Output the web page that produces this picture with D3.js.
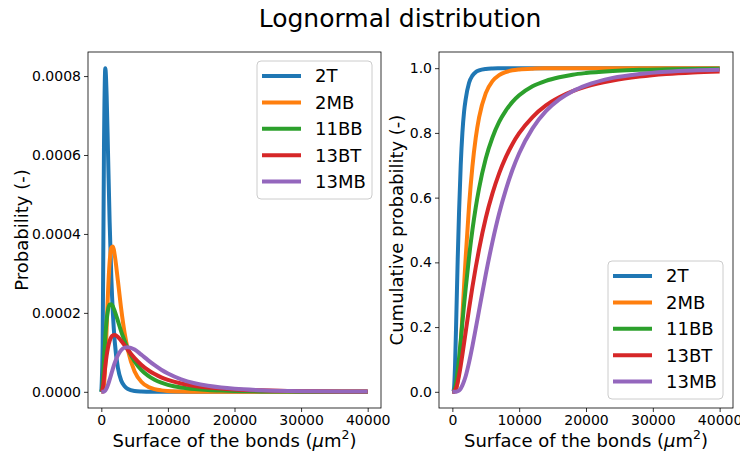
<!DOCTYPE html>
<html>
<head>
<meta charset="utf-8">
<script src="https://cdn.jsdelivr.net/npm/d3@7"></script>
<style>
  body { margin: 0; background: #fff; }
  svg { font-family: "DejaVu Sans", sans-serif; }
</style>
</head>
<body>
<svg width="740" height="457"></svg>
<script>
// values
var names  = ["2T", "2MB", "11BB", "13BT", "13MB"];
var colors = ["#1f77b4", "#ff7f0e", "#2ca02c", "#d62728", "#9467bd"];

var surface = [0, 200, 400, 600, 800, 1000, 1250, 1500, 1750, 2000, 2500, 3000, 3500, 4000, 5000,
               6000, 7000, 8000, 9000, 10000, 12000, 14000, 16000, 18000, 20000, 24000, 28000, 32000, 36000, 40000];

var pdf2T   = [0, 0.00012, 0.00062, 0.00082, 0.00075, 0.00061, 0.00043, 0.00029, 0.000195, 0.00013, 0.00006, 0.000028, 0.000014, 0.000007, 0.000002,
               0.0000007, 0.0000003, 0.0000001, 0, 0, 0, 0, 0, 0, 0, 0, 0, 0, 0, 0];
var pdf2MB  = [0, 0.0000003, 0.000015, 0.000073, 0.000162, 0.00025, 0.000329, 0.000365, 0.000368, 0.000348, 0.00028, 0.000208, 0.000149, 0.000105, 0.0000515,
               0.0000256, 0.000013, 0.0000068, 0.0000037, 0.0000021, 0.0000007, 0.0000003, 0.0000001, 0, 0, 0, 0, 0, 0, 0];
var pdf11BB = [0, 0.0000186, 0.00008, 0.000139, 0.000182, 0.000207, 0.000221, 0.000222, 0.000216, 0.000205, 0.000179, 0.000152, 0.000129, 0.000108, 0.000077,
               0.0000556, 0.0000408, 0.0000304, 0.000023, 0.0000177, 0.0000108, 0.0000069, 0.0000045, 0.0000031, 0.0000022, 0.0000011, 0.0000006, 0.0000004, 0.0000002, 0.0000001];
var pdf13BT = [0, 0.0000074, 0.0000343, 0.0000653, 0.0000918, 0.000112, 0.000129, 0.000139, 0.000143, 0.000144, 0.000139, 0.000129, 0.000118, 0.000106, 0.0000854,
               0.0000686, 0.0000553, 0.0000449, 0.0000367, 0.0000302, 0.000021, 0.0000149, 0.0000109, 0.0000081, 0.0000061, 0.0000037, 0.0000023, 0.0000015, 0.000001, 0.0000007];
var pdf13MB = [0, 0, 0.0000006, 0.0000033, 0.000009, 0.0000175, 0.0000308, 0.0000452, 0.0000594, 0.0000724, 0.0000929, 0.000106, 0.000112, 0.000113, 0.000107,
               0.0000941, 0.0000803, 0.0000674, 0.000056, 0.0000464, 0.0000317, 0.0000218, 0.0000152, 0.0000107, 0.0000076, 0.0000041, 0.0000022, 0.0000013, 0.0000008, 0.0000005];

var cdf2T   = [0, 0.005, 0.08, 0.24, 0.41, 0.555, 0.70, 0.80, 0.865, 0.905, 0.955, 0.977, 0.988, 0.993, 0.9976,
               0.9991, 0.9996, 0.9998, 0.9999, 1, 1, 1, 1, 1, 1, 1, 1, 1, 1, 1];
var cdf2MB  = [0, 0, 0.001, 0.009, 0.0325, 0.074, 0.147, 0.2345, 0.327, 0.417, 0.575, 0.696, 0.785, 0.848, 0.923,
               0.960, 0.9787, 0.9882, 0.9934, 0.9961, 0.9986, 0.9995, 0.9998, 1, 1, 1, 1, 1, 1, 1];
var cdf11BB = [0, 0.001, 0.0105, 0.0326, 0.065, 0.104, 0.158, 0.214, 0.2685, 0.321, 0.417, 0.5, 0.570, 0.629, 0.721,
               0.786, 0.834, 0.869, 0.896, 0.916, 0.944, 0.961, 0.972, 0.980, 0.985, 0.991, 0.995, 0.9966, 0.9978, 0.9985];
var cdf13BT = [0, 0.0004, 0.0043, 0.0143, 0.030, 0.0506, 0.081, 0.115, 0.150, 0.186, 0.257, 0.324, 0.385, 0.441, 0.537,
               0.613, 0.675, 0.725, 0.766, 0.799, 0.849, 0.885, 0.910, 0.929, 0.943, 0.962, 0.974, 0.982, 0.987, 0.990];
var cdf13MB = [0, 0, 0, 0.0004, 0.0016, 0.0042, 0.0102, 0.0197, 0.0328, 0.049, 0.091, 0.141, 0.196, 0.252, 0.363,
               0.4635, 0.551, 0.624, 0.686, 0.737, 0.814, 0.867, 0.9035, 0.929, 0.947, 0.970, 0.982, 0.989, 0.993, 0.995];

var xTicks    = [0, 10000, 20000, 30000, 40000];
var pdfTicks  = [0, 0.0002, 0.0004, 0.0006, 0.0008];
var cdfTicks  = [0, 0.2, 0.4, 0.6, 0.8, 1.0];

var pdfSeries = [pdf2T, pdf2MB, pdf11BB, pdf13BT, pdf13MB];
var cdfSeries = [cdf2T, cdf2MB, cdf11BB, cdf13BT, cdf13MB];

var svg = d3.select("svg");

svg.append("text")
   .attr("x", 400)
   .attr("y", 27)
   .attr("text-anchor", "middle")
   .attr("font-size", 25)
   .text("Lognormal distribution");

function withMargin(lo, hi) {
  var pad = (hi - lo) * 0.05;
  return [lo - pad, hi + pad];
}

function panel(opts) {
  var left = opts.left, top = 52, width = opts.width, height = 356;
  var g = svg.append("g").attr("transform", "translate(" + left + "," + top + ")");

  var x = d3.scaleLinear().domain(withMargin(0, 40000)).range([0, width]);
  var ymax = d3.max(opts.series, function(s) { return d3.max(s); });
  var y = d3.scaleLinear().domain(withMargin(0, ymax)).range([height, 0]);

  var line = d3.line()
               .x(function(d, i) { return x(surface[i]); })
               .y(function(d) { return y(d); })
               .curve(d3.curveMonotoneX);

  opts.series.forEach(function(s, i) {
    g.append("path")
     .datum(s)
     .attr("d", line)
     .attr("fill", "none")
     .attr("stroke", colors[i])
     .attr("stroke-width", 4)
     .attr("stroke-linejoin", "round")
     .attr("stroke-linecap", "butt");
  });

  g.append("rect")
   .attr("width", width)
   .attr("height", height)
   .attr("fill", "none")
   .attr("stroke", "#000")
   .attr("stroke-width", 0.8);

  var xAxis = g.append("g")
               .attr("transform", "translate(0," + height + ")")
               .call(d3.axisBottom(x).tickValues(xTicks).tickFormat(d3.format("d")).tickSize(4).tickPadding(3));
  var yAxis = g.append("g")
               .call(d3.axisLeft(y).tickValues(opts.ticks).tickFormat(d3.format(opts.fmt)).tickSize(4).tickPadding(3));

  [xAxis, yAxis].forEach(function(a) {
    a.select(".domain").remove();
    a.selectAll("text").attr("font-size", 14).attr("font-family", "DejaVu Sans").attr("fill", "#000");
    a.selectAll("line").attr("stroke", "#000").attr("stroke-width", 0.8);
  });

  var xl = g.append("text")
            .attr("x", width / 2)
            .attr("y", height + 39)
            .attr("text-anchor", "middle")
            .attr("font-size", 18);
  xl.append("tspan").text("Surface of the bonds (");
  xl.append("tspan").attr("font-style", "italic").text("\u03bc");
  xl.append("tspan").text("m");
  xl.append("tspan").attr("font-size", 12.5).attr("dy", -8).text("2");
  xl.append("tspan").attr("dy", 8).text(")");

  g.append("text")
   .attr("transform", "translate(" + opts.ylabelX + "," + (height / 2) + ") rotate(-90)")
   .attr("text-anchor", "middle")
   .attr("font-size", 18)
   .text(opts.ylabel);

  // legend
  var lg = g.append("g").attr("transform", "translate(" + opts.legend[0] + "," + opts.legend[1] + ")");
  lg.append("rect")
    .attr("width", 115)
    .attr("height", 138)
    .attr("rx", 4)
    .attr("fill", "#fff")
    .attr("fill-opacity", 0.8)
    .attr("stroke", "#ccc")
    .attr("stroke-width", 1);
  names.forEach(function(n, i) {
    var yy = 15 + i * 26.4;
    lg.append("line")
      .attr("x1", 5).attr("x2", 44)
      .attr("y1", yy).attr("y2", yy)
      .attr("stroke", colors[i])
      .attr("stroke-width", 4);
    lg.append("text")
      .attr("x", 58)
      .attr("y", yy)
      .attr("dy", "0.36em")
      .attr("font-size", 18)
      .text(n);
  });
}

panel({ left: 88, width: 293, series: pdfSeries, ticks: pdfTicks, fmt: ".4f",
        ylabel: "Probability (-)", ylabelX: -60, legend: [169, 9] });
panel({ left: 439, width: 294, series: cdfSeries, ticks: cdfTicks, fmt: ".1f",
        ylabel: "Cumulative probability (-)", ylabelX: -36, legend: [169, 209] });
</script>
</body>
</html>
